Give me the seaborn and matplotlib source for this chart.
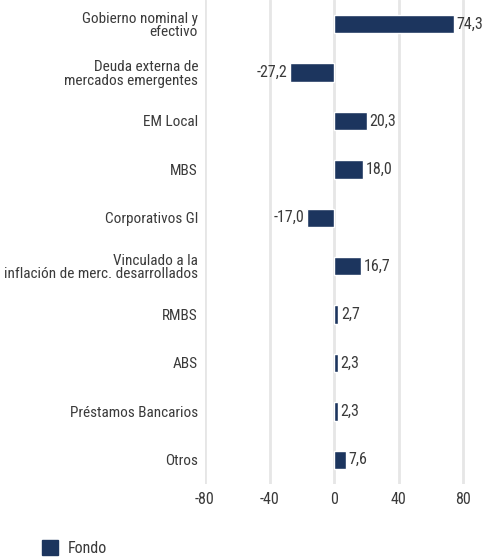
import seaborn as sns
import matplotlib.pyplot as plt
import pandas as pd
from matplotlib.patches import Patch

categorias = ["Gobierno nominal y\nefectivo",
              "Deuda externa de\nmercados emergentes",
              "EM Local",
              "MBS",
              "Corporativos GI",
              "Vinculado a la\ninflación de merc. desarrollados",
              "RMBS",
              "ABS",
              "Préstamos Bancarios",
              "Otros"]
fondo = [74.3, -27.2, 20.3, 18.0, -17.0, 16.7, 2.7, 2.3, 2.3, 7.6]
ticks = [-80, -40, 0, 40, 80]

azul = "#1c355e"
gris = "#3a3a3a"

sns.set_style("white")
plt.rcParams['font.family'] = ['Roboto Condensed', 'DejaVu Sans']

df = pd.DataFrame({"categoria": categorias, "valor": fondo})

fig = plt.figure(figsize=(4.84, 5.58), dpi=100)
ax = fig.add_axes([205 / 484, 1 - 484 / 558, 1 - 205 / 484, 484 / 558])

sns.barplot(data=df, y="categoria", x="valor", orient="h", color=azul,
            width=0.38, saturation=1, ax=ax)

ax.set_xlim(-80, 93)
ax.set_ylim(9.5, -0.5)
ax.set_xticks(ticks)
ax.set_xticklabels([str(t) for t in ticks])
ax.grid(axis="x", color="#e6e6e6", linewidth=2)
ax.set_axisbelow(True)
for s in ax.spines.values():
    s.set_visible(False)
ax.tick_params(axis="x", length=0, labelsize=11.5, colors=gris, pad=6)
ax.tick_params(axis="y", length=0, labelsize=11, colors=gris, pad=5)
for lab in ax.get_yticklabels():
    lab.set_horizontalalignment("right")
    lab.set_linespacing(0.95)
ax.set_xlabel("")
ax.set_ylabel("")

for i, v in enumerate(fondo):
    txt = f"{v:.1f}".replace(".", ",")
    if v >= 0:
        ax.text(v + 1.5, i, txt, va="center", ha="left", fontsize=11.5, color=gris, clip_on=False)
    else:
        ax.text(v - 1.5, i, txt, va="center", ha="right", fontsize=11.5, color=gris, clip_on=False)

fig.legend(handles=[Patch(color=azul, label="Fondo")], loc="lower left",
           bbox_to_anchor=(28 / 484, -0.022), frameon=False, fontsize=11.5,
           handlelength=1.0, handleheight=1.0, handletextpad=0.6, labelcolor=gris)

fig.savefig("out.png", dpi=100)
